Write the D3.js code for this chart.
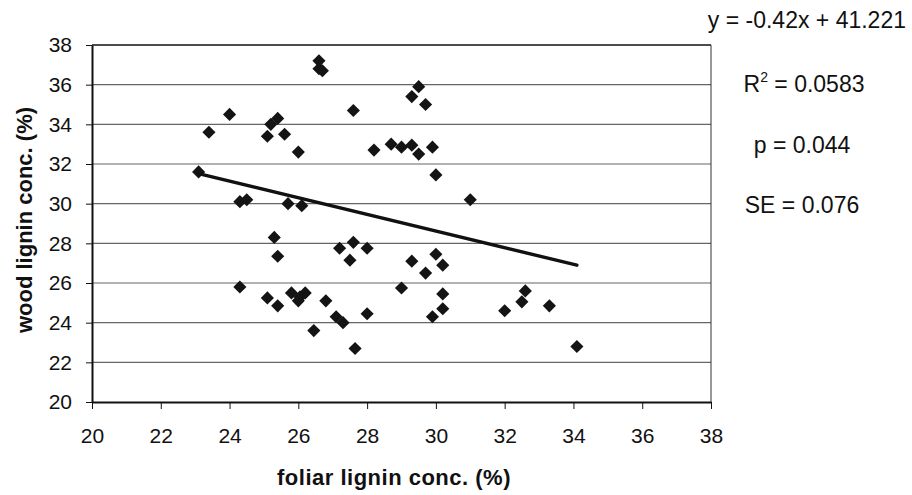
<!DOCTYPE html>
<html>
<head>
  <meta charset="utf-8">
  <script src="https://d3js.org/d3.v7.min.js"></script>
  <style>
    body { margin: 0; background: #fff; }
    text { font-family: "Liberation Sans", Arial, sans-serif; fill: #111; }
    .axis path, .axis line { stroke: #111; }
  </style>
</head>
<body>
  <svg id="chart" width="912" height="495"></svg>
  <script>
    // foliar lignin (x) vs wood lignin (y)
    const foliar = [23.1, 23.4, 24.0, 25.2, 25.4, 25.1, 25.6, 26.0,
      26.6, 26.6, 26.7, 27.6, 29.5, 29.3, 29.7, 28.2, 28.7, 29.0, 29.3, 29.5, 29.9, 30.0, 31.0,
      24.3, 24.5, 25.7, 26.1, 25.3, 25.4, 24.3, 25.1, 25.4, 25.8, 26.0, 26.2, 26.05, 26.45,
      27.2, 27.6, 28.0, 27.5, 29.3, 30.0, 30.2, 29.7, 29.0, 26.8, 27.1, 27.3, 28.0, 27.65,
      30.2, 30.2, 29.9, 32.0, 32.6, 32.5, 33.3, 34.1];
    const wood = [31.6, 33.6, 34.5, 34.0, 34.3, 33.4, 33.5, 32.6,
      37.2, 36.8, 36.7, 34.7, 35.9, 35.4, 35.0, 32.7, 33.0, 32.85, 32.95, 32.5, 32.85, 31.45, 30.2,
      30.1, 30.2, 30.0, 29.9, 28.3, 27.35, 25.8, 25.25, 24.85, 25.5, 25.1, 25.5, 25.3, 23.6,
      27.75, 28.05, 27.75, 27.15, 27.1, 27.45, 26.9, 26.5, 25.75, 25.1, 24.3, 24.0, 24.45, 22.7,
      25.45, 24.7, 24.3, 24.6, 25.6, 25.05, 24.85, 22.8];

    const slope = -0.42, intercept = 41.221;
    const fitRange = [23.1, 34.1];

    const xTicks = [20, 22, 24, 26, 28, 30, 32, 34, 36, 38];
    const yTicks = [20, 22, 24, 26, 28, 30, 32, 34, 36, 38];

    const svg = d3.select("#chart");
    const margin = { top: 45, left: 92, right: 201, bottom: 93 };
    const width = 912 - margin.left - margin.right;
    const height = 495 - margin.top - margin.bottom;

    const x = d3.scaleLinear().domain([20, 38]).range([0, width]);
    const y = d3.scaleLinear().domain([20, 38]).range([height, 0]);

    const plot = svg.append("g")
      .attr("transform", "translate(" + margin.left + "," + margin.top + ")");

    // horizontal gridlines
    plot.append("g")
      .selectAll("line").data(yTicks.filter(d => d > 20))
      .join("line")
      .attr("x1", 0).attr("x2", width)
      .attr("y1", d => y(d)).attr("y2", d => y(d))
      .attr("stroke", d => d === 38 ? "#111" : "#666")
      .attr("stroke-width", d => d === 38 ? 1.5 : 1.1);

    // right border
    plot.append("line")
      .attr("x1", width).attr("x2", width)
      .attr("y1", 0).attr("y2", height)
      .attr("stroke", "#333").attr("stroke-width", 1);

    const xAxis = plot.append("g").attr("class", "axis")
      .attr("transform", "translate(0," + height + ")")
      .call(d3.axisBottom(x).tickValues(xTicks).tickSize(7).tickSizeOuter(0).tickPadding(19));
    xAxis.select(".domain").attr("stroke-width", 2);
    xAxis.selectAll("text").style("font-size", "21px");

    const yAxis = plot.append("g").attr("class", "axis")
      .call(d3.axisLeft(y).tickValues(yTicks).tickSize(6).tickSizeOuter(0).tickPadding(14));
    yAxis.select(".domain").attr("stroke-width", 2);
    yAxis.selectAll("text").style("font-size", "21px");

    // data points as diamonds
    const pts = foliar.map((f, i) => ({ x: f, y: wood[i] }));
    plot.selectAll("path.pt").data(pts)
      .join("path")
      .attr("class", "pt")
      .attr("d", d3.symbol().type(d3.symbolDiamond2).size(110))
      .attr("transform", d => "translate(" + x(d.x) + "," + y(d.y) + ")")
      .attr("fill", "#141414");

    // regression line
    plot.append("line")
      .attr("x1", x(fitRange[0])).attr("y1", y(slope * fitRange[0] + intercept))
      .attr("x2", x(fitRange[1])).attr("y2", y(slope * fitRange[1] + intercept))
      .attr("stroke", "#111").attr("stroke-width", 3.4)
      .attr("stroke-linecap", "round");

    // axis titles
    svg.append("text")
      .attr("x", 394).attr("y", 485)
      .attr("text-anchor", "middle")
      .style("font-size", "22px").style("font-weight", "bold")
      .style("letter-spacing", "0.5px")
      .text("foliar lignin conc. (%)");

    svg.append("text")
      .attr("transform", "translate(32,220) rotate(-90)")
      .attr("text-anchor", "middle")
      .style("font-size", "22px").style("font-weight", "bold")
      .text("wood lignin conc. (%)");

    // statistics text
    svg.append("text")
      .attr("x", 906).attr("y", 28)
      .attr("text-anchor", "end")
      .style("font-size", "23px")
      .text("y = -0.42x + 41.221");

    const r2 = svg.append("text")
      .attr("x", 804).attr("y", 92)
      .attr("text-anchor", "middle")
      .style("font-size", "23px");
    r2.append("tspan").text("R");
    r2.append("tspan").attr("dy", -10).style("font-size", "14px").text("2");
    r2.append("tspan").attr("dy", 10).text(" = 0.0583");

    svg.append("text")
      .attr("x", 802).attr("y", 153)
      .attr("text-anchor", "middle")
      .style("font-size", "23px")
      .text("p = 0.044");

    svg.append("text")
      .attr("x", 802).attr("y", 213)
      .attr("text-anchor", "middle")
      .style("font-size", "23px")
      .text("SE = 0.076");
  </script>
</body>
</html>
